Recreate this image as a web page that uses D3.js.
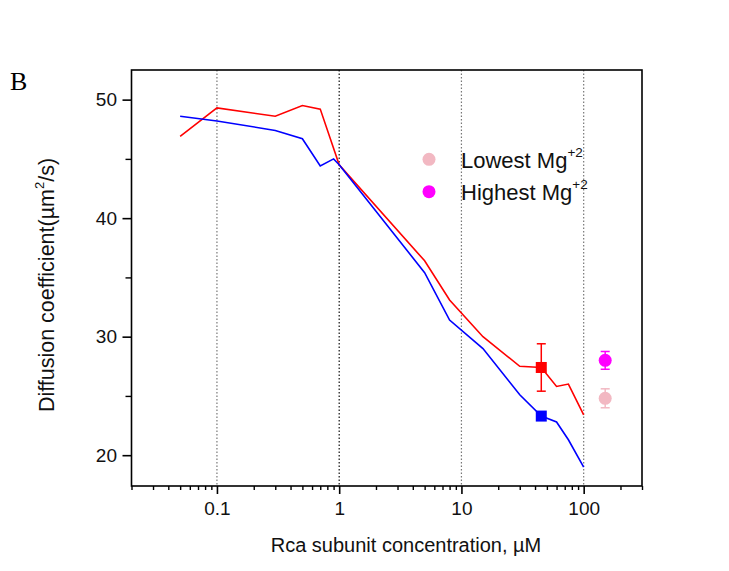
<!DOCTYPE html>
<html>
<head>
<meta charset="utf-8">
<script src="https://cdn.jsdelivr.net/npm/d3@7"></script>
<style>
  body { margin: 0; background: #fff; }
  svg { display: block; font-family: "Liberation Sans", Arial, sans-serif; }
</style>
</head>
<body>
<svg id="chart" width="729" height="571"></svg>
<script>
// red curve (lowest Mg)
const concRed = [0.05, 0.1, 0.3, 0.5, 0.7, 1, 5, 8, 15, 30, 45, 60, 75, 100];
const diffRed = [46.9, 49.3, 48.6, 49.5, 49.2, 44.5, 36.4, 33.1, 30.0, 27.5, 27.4, 25.8, 26.0, 23.4];
// blue curve
const concBlue = [0.05, 0.1, 0.3, 0.5, 0.7, 0.9, 1, 5, 8, 15, 30, 45, 60, 75, 100];
const diffBlue = [48.6, 48.2, 47.4, 46.7, 44.4, 45.0, 44.5, 35.4, 31.4, 29.0, 25.1, 23.3, 22.8, 21.3, 19.0];
// measured squares
const squareConc = [45, 45];
const squareVal = [27.4, 23.3];
const squareErr = [2.0, 0];
const squareColor = ["#ff0000", "#0000ff"];
// Mg points
const mgLabels = ["Lowest Mg", "Highest Mg"];
const mgConc = [150, 150];
const mgVal = [24.8, 28.0];
const mgErr = [0.8, 0.75];
const mgColor = ["#f2b8c2", "#ff00ff"];

const xMajor = [0.1, 1, 10, 100];
const yMajor = [20, 30, 40, 50];
const yMinor = [25, 35, 45];

const svg = d3.select("#chart");
const pLeft = 131.5, pRight = 642, pTop = 70, pBottom = 486;

const x = d3.scaleLog().domain([0.02, 300]).range([pLeft, pRight]);
const y = d3.scaleLinear().domain([17.4, 52.5]).range([pBottom, pTop]);

// minor ticks on log axis
let xMinor = [];
[0.01, 0.1, 1, 10, 100].forEach(dec => {
  for (let k = 2; k <= 9; k++) {
    const v = dec * k;
    if (v >= 0.02 && v <= 300) xMinor.push(v);
  }
});

// dotted vertical grid
svg.append("g")
  .selectAll("line")
  .data(xMajor)
  .join("line")
  .attr("x1", d => x(d)).attr("x2", d => x(d))
  .attr("y1", pTop).attr("y2", pBottom)
  .attr("stroke", d => d === 1 ? "#111" : "#777")
  .attr("stroke-width", 1.2)
  .attr("stroke-dasharray", "1.5,2");

// lines
const line = d3.line().x(d => x(d[0])).y(d => y(d[1]));
svg.append("path")
  .datum(concRed.map((c, i) => [c, diffRed[i]]))
  .attr("d", line)
  .attr("fill", "none").attr("stroke", "#ff0000").attr("stroke-width", 1.6);
svg.append("path")
  .datum(concBlue.map((c, i) => [c, diffBlue[i]]))
  .attr("d", line)
  .attr("fill", "none").attr("stroke", "#0000ff").attr("stroke-width", 1.6);

// error bars + markers
function errBar(cx, v, e, col) {
  if (e <= 0) return;
  const g = svg.append("g").attr("stroke", col).attr("stroke-width", 1.5);
  g.append("line").attr("x1", x(cx)).attr("x2", x(cx)).attr("y1", y(v - e)).attr("y2", y(v + e));
  g.append("line").attr("x1", x(cx) - 4.5).attr("x2", x(cx) + 4.5).attr("y1", y(v - e)).attr("y2", y(v - e));
  g.append("line").attr("x1", x(cx) - 4.5).attr("x2", x(cx) + 4.5).attr("y1", y(v + e)).attr("y2", y(v + e));
}
squareConc.forEach((c, i) => {
  errBar(c, squareVal[i], squareErr[i], squareColor[i]);
  svg.append("rect")
    .attr("x", x(c) - 5.5).attr("y", y(squareVal[i]) - 5.5)
    .attr("width", 11).attr("height", 11)
    .attr("fill", squareColor[i]);
});
mgConc.forEach((c, i) => {
  errBar(c, mgVal[i], mgErr[i], mgColor[i]);
  svg.append("circle")
    .attr("cx", x(c)).attr("cy", y(mgVal[i])).attr("r", 6.5)
    .attr("fill", mgColor[i]);
});

// frame
svg.append("rect")
  .attr("x", pLeft).attr("y", pTop)
  .attr("width", pRight - pLeft).attr("height", pBottom - pTop)
  .attr("fill", "none").attr("stroke", "#000").attr("stroke-width", 1.6);

// axes
const fmt = d => d >= 1 ? d3.format("d")(d) : String(d);
svg.append("g")
  .attr("transform", `translate(0,${pBottom})`)
  .call(d3.axisBottom(x).tickValues(xMajor).tickFormat(fmt).tickSize(8).tickPadding(7.5).tickSizeOuter(0))
  .call(g => g.select(".domain").remove())
  .call(g => g.selectAll("line").attr("stroke-width", 1.6))
  .call(g => g.selectAll("text").attr("font-size", 19).attr("font-family", "Liberation Sans, Arial, sans-serif").attr("fill", "#111"));
svg.append("g")
  .attr("transform", `translate(0,${pBottom})`)
  .call(d3.axisBottom(x).tickValues(xMinor).tickFormat("").tickSize(4).tickSizeOuter(0))
  .call(g => g.select(".domain").remove())
  .call(g => g.selectAll("line").attr("stroke-width", 1.4));

svg.append("g")
  .attr("transform", `translate(${pLeft},0)`)
  .call(d3.axisLeft(y).tickValues(yMajor).tickSize(9).tickPadding(5.5))
  .call(g => g.select(".domain").remove())
  .call(g => g.selectAll("line").attr("stroke-width", 1.6))
  .call(g => g.selectAll("text").attr("font-size", 19).attr("font-family", "Liberation Sans, Arial, sans-serif").attr("fill", "#111"));
svg.append("g")
  .attr("transform", `translate(${pLeft},0)`)
  .call(d3.axisLeft(y).tickValues(yMinor).tickFormat("").tickSize(6))
  .call(g => g.select(".domain").remove())
  .call(g => g.selectAll("line").attr("stroke-width", 1.4));

// axis titles
svg.append("text")
  .attr("x", 406).attr("y", 552)
  .attr("text-anchor", "middle").attr("font-size", 20).attr("fill", "#111")
  .text("Rca subunit concentration, \u00b5M");

const yt = svg.append("text")
  .attr("transform", "translate(54,285) rotate(-90)")
  .attr("text-anchor", "middle").attr("font-size", 21.5).attr("fill", "#111");
yt.append("tspan").text("Diffusion coefficient(\u00b5m");
yt.append("tspan").attr("dy", -10).attr("font-size", 13).text("2");
yt.append("tspan").attr("dy", 10).text("/s)");

// panel letter
svg.append("text")
  .attr("x", 10).attr("y", 90)
  .attr("font-family", "Liberation Serif, Times New Roman, serif")
  .attr("font-size", 26).attr("fill", "#000")
  .text("B");

// legend
const legY = [159.3, 191.7];
mgLabels.forEach((lab, i) => {
  svg.append("circle").attr("cx", 429).attr("cy", legY[i]).attr("r", 6.5).attr("fill", mgColor[i]);
  const t = svg.append("text")
    .attr("x", 461).attr("y", legY[i] + 8.2)
    .attr("font-size", 22).attr("fill", "#111");
  t.append("tspan").text(lab);
  t.append("tspan").attr("dy", -11).attr("font-size", 13.5).text("+2");
});
</script>
</body>
</html>
